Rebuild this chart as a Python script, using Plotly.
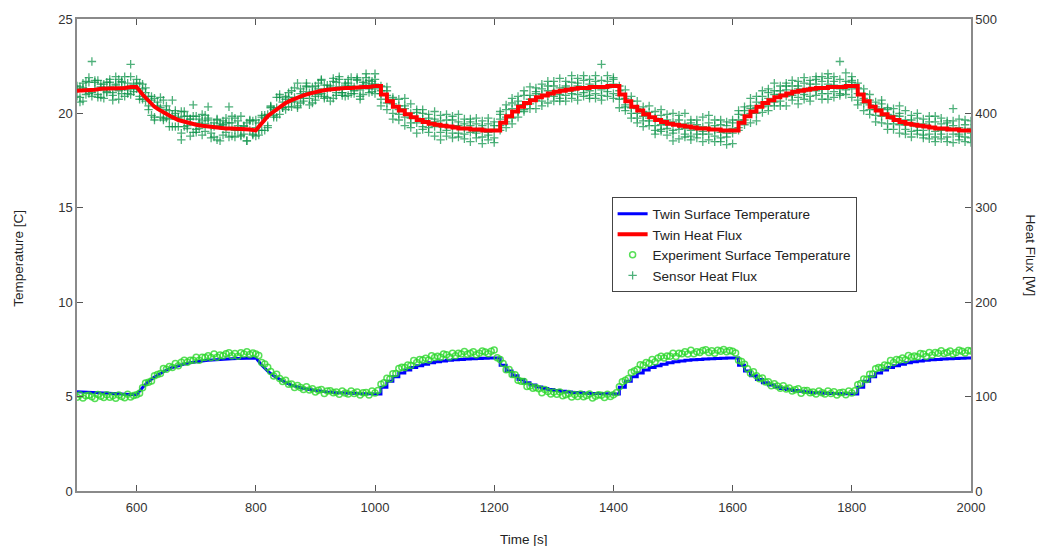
import numpy as np
import plotly.graph_objects as go

# ---------------- data ----------------
# twin model outputs every 10 s, 500..2000 s
twin_time = list(range(500, 2001, 10))
twin_temp = [
    5.26, 5.25, 5.24, 5.22, 5.21, 5.19, 5.17, 5.15, 5.13, 5.11,
    5.10, 5.48, 5.80, 6.04, 6.24, 6.41, 6.54, 6.64, 6.72, 6.79, 6.85, 6.89, 6.92, 6.95, 6.97, 6.99, 7.01, 7.02, 7.03, 7.04,
    7.05, 6.66, 6.35, 6.10, 5.90, 5.74, 5.61, 5.51, 5.43, 5.37, 5.32, 5.28, 5.25, 5.22, 5.20, 5.18, 5.17, 5.16, 5.15, 5.15,
    5.14, 5.50, 5.81, 6.05, 6.25, 6.41, 6.54, 6.64, 6.72, 6.79, 6.85, 6.89, 6.92, 6.95, 6.97, 6.99, 7.01, 7.02, 7.03, 7.04,
    7.05, 6.66, 6.35, 6.10, 5.90, 5.74, 5.61, 5.51, 5.43, 5.37, 5.32, 5.28, 5.25, 5.22, 5.20, 5.18, 5.17, 5.16, 5.15, 5.15,
    5.14, 5.50, 5.81, 6.05, 6.25, 6.41, 6.54, 6.64, 6.72, 6.79, 6.85, 6.89, 6.92, 6.95, 6.97, 6.99, 7.01, 7.02, 7.03, 7.04,
    7.05, 6.66, 6.35, 6.10, 5.90, 5.74, 5.61, 5.51, 5.43, 5.37, 5.32, 5.28, 5.25, 5.22, 5.20, 5.18, 5.17, 5.16, 5.15, 5.15,
    5.14, 5.50, 5.81, 6.05, 6.25, 6.41, 6.54, 6.64, 6.72, 6.79, 6.85, 6.89, 6.92, 6.95, 6.97, 6.99, 7.01, 7.02, 7.03, 7.04,
    7.05,
]
twin_flux = [
    424, 424, 425, 425, 426, 426, 427, 427, 427, 428,
    428, 420, 413, 407, 403, 399, 396, 393, 391, 390, 388, 387, 386, 385, 385, 384, 384, 384, 383, 383,
    382, 390, 397, 402, 407, 411, 414, 417, 419, 421, 423, 424, 425, 426, 426, 427, 427, 428, 428, 428,
    429, 420, 413, 407, 403, 399, 396, 393, 391, 389, 388, 387, 386, 385, 384, 384, 383, 383, 382, 382,
    382, 390, 397, 402, 407, 411, 414, 417, 419, 421, 423, 424, 425, 426, 427, 427, 428, 428, 428, 429,
    429, 420, 413, 407, 403, 399, 396, 393, 391, 389, 388, 387, 386, 385, 384, 384, 383, 383, 382, 382,
    382, 390, 397, 402, 407, 411, 414, 417, 419, 421, 423, 424, 425, 426, 427, 427, 428, 428, 428, 429,
    429, 420, 413, 407, 403, 399, 396, 393, 391, 389, 388, 387, 386, 385, 384, 384, 383, 383, 382, 382,
    382,
]

# experiment surface temperature every 5 s, 500..2000 s
exp_time = list(range(500, 2001, 5))
exp_temp = [
    4.97, 5.09, 4.92, 5.04, 5.07, 4.99, 4.90, 5.11, 5.02, 4.95, 5.10, 4.96, 5.05, 4.91, 5.08, 5.01, 4.94, 5.12, 4.98, 5.06,
    5.10, 5.18, 5.47, 5.72, 5.76, 5.83, 6.11, 6.17, 6.23, 6.49, 6.45, 6.59, 6.54, 6.75, 6.63, 6.82, 6.92, 6.82, 6.93, 6.93,
    7.09, 6.93, 7.09, 7.07, 7.17, 7.07, 7.26, 7.08, 7.20, 7.16, 7.27, 7.32, 7.17, 7.28, 7.14, 7.32, 7.26, 7.37, 7.23, 7.31,
    7.26, 7.18, 6.81, 6.73, 6.56, 6.33, 6.09, 6.18, 5.96, 5.80, 5.86, 5.65, 5.67, 5.48, 5.59, 5.48, 5.37, 5.52, 5.35, 5.41,
    5.25, 5.33, 5.38, 5.16, 5.30, 5.31, 5.20, 5.24, 5.13, 5.29, 5.19, 5.14, 5.29, 5.16, 5.25, 5.08, 5.20, 5.22, 5.09, 5.29,
    5.19, 5.32, 5.66, 5.73, 5.97, 5.93, 6.21, 6.22, 6.49, 6.55, 6.54, 6.68, 6.65, 6.91, 6.80, 6.97, 6.94, 7.03, 6.94, 7.17,
    7.07, 7.14, 7.09, 7.25, 7.22, 7.10, 7.29, 7.16, 7.29, 7.25, 7.39, 7.24, 7.30, 7.37, 7.22, 7.29, 7.42, 7.36, 7.27, 7.40,
    7.47, 7.06, 6.97, 6.75, 6.42, 6.43, 6.17, 6.16, 5.87, 5.81, 5.80, 5.54, 5.56, 5.44, 5.48, 5.41, 5.21, 5.38, 5.27, 5.14,
    5.24, 5.13, 5.25, 5.05, 5.10, 5.16, 4.98, 5.11, 5.01, 5.14, 4.99, 5.06, 5.14, 4.93, 5.02, 5.10, 5.07, 4.95, 5.13, 5.01,
    5.10, 5.21, 5.52, 5.79, 5.86, 5.96, 6.28, 6.35, 6.43, 6.69, 6.66, 6.80, 6.76, 6.97, 6.85, 7.04, 7.14, 7.04, 7.15, 7.14,
    7.30, 7.13, 7.29, 7.27, 7.37, 7.26, 7.45, 7.27, 7.38, 7.33, 7.44, 7.48, 7.33, 7.43, 7.29, 7.46, 7.40, 7.50, 7.37, 7.44,
    7.40, 7.31, 6.93, 6.86, 6.71, 6.48, 6.24, 6.32, 6.11, 5.94, 5.99, 5.77, 5.78, 5.57, 5.68, 5.56, 5.44, 5.58, 5.40, 5.45,
    5.29, 5.36, 5.41, 5.18, 5.32, 5.32, 5.21, 5.25, 5.14, 5.30, 5.20, 5.14, 5.30, 5.16, 5.26, 5.08, 5.21, 5.23, 5.10, 5.30,
    5.19, 5.31, 5.63, 5.70, 5.93, 5.90, 6.18, 6.20, 6.47, 6.54, 6.53, 6.67, 6.64, 6.91, 6.80, 6.97, 6.94, 7.04, 6.95, 7.18,
    7.08, 7.15, 7.11, 7.28, 7.25, 7.13, 7.33, 7.20, 7.33, 7.29, 7.43, 7.28, 7.34, 7.41, 7.26, 7.33, 7.46, 7.40, 7.31, 7.44,
    7.41,
]

# sensor heat flux, dense part: three readings every 5 s, 500..995 s
sensor_dense_time = list(range(500, 1000, 5))
sensor_dense_1 = [
    429, 417, 427, 434, 421, 455, 433, 420, 428, 416, 433, 428, 422, 439, 424, 433, 418, 432, 452, 426,
    436, 418, 431, 413, 418, 398, 416, 407, 396, 414, 395, 403, 414, 386, 396, 402, 386, 397, 376, 409,
    397, 384, 392, 398, 407, 387, 375, 393, 389, 377, 395, 407, 390, 375, 387, 397, 378, 390, 382, 392,
    376, 390, 398, 382, 399, 406, 398, 417, 399, 412, 418, 407, 424, 413, 432, 411, 423, 429, 409, 423,
    429, 420, 435, 416, 430, 427, 416, 433, 439, 422, 430, 436, 421, 428, 436, 415, 433, 438, 426, 434,
]
sensor_dense_2 = [
    418, 428, 413, 426, 433, 422, 435, 417, 431, 425, 422, 436, 419, 430, 415, 434, 428, 421, 439, 423,
    426, 432, 415, 422, 404, 414, 393, 412, 406, 393, 404, 386, 398, 403, 386, 372, 397, 387, 394, 380,
    383, 394, 377, 389, 395, 379, 390, 372, 387, 392, 380, 390, 376, 395, 382, 376, 387, 371, 392, 377,
    385, 377, 396, 395, 387, 408, 396, 406, 417, 406, 404, 417, 412, 427, 408, 421, 413, 428, 422, 411,
    418, 432, 421, 430, 417, 429, 437, 419, 428, 422, 418, 432, 429, 421, 438, 425, 420, 432, 435, 423,
]
sensor_dense_3 = [
    426, 412, 432, 420, 438, 418, 426, 435, 417, 431, 423, 433, 414, 431, 436, 421, 439, 425, 420, 431,
    432, 415, 426, 427, 408, 418, 396, 408, 417, 395, 408, 394, 386, 400, 395, 379, 402, 384, 394, 397,
    380, 390, 399, 381, 393, 374, 386, 394, 371, 388, 390, 375, 397, 382, 392, 377, 386, 371, 393, 378,
    393, 382, 382, 398, 385, 407, 404, 396, 420, 406, 415, 422, 407, 417, 406, 426, 416, 432, 416, 428,
    414, 426, 436, 418, 426, 413, 434, 422, 436, 419, 432, 419, 438, 424, 435, 418, 430, 442, 422, 431,
]

# sensor heat flux, column part: five readings every 10 s, 1000..2000 s
sensor_col_time = list(range(1000, 2001, 10))
sensor_cols = [
    [436, 421, 431, 442, 426], [415, 429, 408, 424, 421], [424, 411, 404, 419, 428], [400, 410, 415, 394, 417],
    [404, 393, 415, 408, 399], [387, 405, 396, 408, 416], [400, 410, 390, 395, 385], [390, 401, 379, 404, 395],
    [400, 386, 394, 383, 404], [380, 390, 399, 385, 395], [394, 376, 386, 402, 391], [386, 398, 380, 392, 372],
    [399, 382, 393, 376, 386], [379, 387, 374, 393, 397], [387, 375, 399, 379, 391], [373, 389, 385, 394, 378],
    [391, 380, 370, 387, 394], [379, 395, 389, 374, 381], [392, 375, 384, 368, 387], [380, 389, 372, 395, 377],
    [387, 369, 391, 383, 374], [382, 394, 402, 387, 399], [409, 396, 391, 404, 385], [389, 411, 405, 395, 416],
    [409, 402, 418, 396, 413], [404, 424, 409, 419, 402], [428, 405, 419, 410, 415], [414, 423, 405, 427, 421],
    [426, 408, 420, 431, 413], [411, 424, 429, 419, 434], [434, 418, 422, 413, 429], [416, 427, 437, 420, 413],
    [429, 413, 419, 434, 427], [416, 433, 424, 440, 421], [429, 420, 437, 414, 432], [422, 440, 418, 426, 435],
    [436, 424, 416, 431, 419], [416, 429, 434, 421, 440], [452, 419, 425, 435, 414], [427, 434, 418, 440, 423],
    [436, 416, 431, 421, 438], [406, 429, 415, 424, 419], [416, 407, 425, 403, 409], [400, 418, 406, 395, 413],
    [413, 400, 395, 405, 390], [392, 407, 397, 386, 402], [401, 387, 408, 392, 395], [382, 395, 402, 387, 378],
    [398, 388, 383, 404, 381], [388, 399, 377, 384, 393], [400, 382, 391, 379, 371], [383, 373, 393, 388, 398],
    [389, 378, 400, 375, 384], [376, 390, 382, 393, 372], [393, 383, 374, 388, 378], [378, 396, 386, 370, 381],
    [384, 372, 390, 378, 398], [370, 387, 376, 393, 383], [388, 380, 393, 374, 370], [379, 391, 367, 387, 375],
    [379, 390, 368, 393, 384], [399, 385, 393, 382, 403], [388, 398, 407, 393, 403], [408, 390, 400, 416, 405],
    [406, 418, 400, 412, 392], [424, 407, 418, 401, 411], [408, 416, 403, 422, 426], [420, 408, 432, 412, 424],
    [408, 424, 420, 429, 413], [429, 418, 408, 425, 432], [419, 435, 429, 414, 421], [434, 417, 426, 410, 429],
    [423, 432, 415, 438, 420], [431, 413, 435, 427, 418], [419, 431, 439, 424, 436], [439, 426, 421, 434, 415],
    [415, 437, 431, 421, 442], [430, 423, 439, 417, 434], [421, 455, 426, 436, 419], [443, 420, 434, 425, 430],
    [426, 435, 417, 439, 433], [427, 409, 421, 432, 414], [403, 416, 421, 411, 426], [414, 399, 409, 420, 404],
    [398, 412, 391, 407, 404], [410, 397, 390, 405, 414], [389, 399, 404, 383, 406], [394, 383, 405, 398, 389],
    [379, 397, 388, 400, 408], [393, 403, 383, 388, 378], [390, 381, 398, 375, 393], [382, 400, 378, 386, 395],
    [394, 382, 374, 389, 377], [373, 386, 391, 378, 397], [397, 375, 381, 391, 370], [382, 389, 373, 395, 378],
    [390, 370, 385, 375, 392], [369, 392, 378, 387, 405], [385, 376, 394, 372, 378], [375, 393, 381, 370, 388],
    [392, 379, 374, 384, 369],
]

x_ticks = [600, 800, 1000, 1200, 1400, 1600, 1800, 2000]

# ---------------- figure ----------------
BLUE = "rgb(0,0,255)"
RED = "rgb(255,0,0)"
EXP_GREEN = "rgba(45,215,45,0.8)"
SEN_GREEN = "rgba(10,145,70,0.72)"
FONT = "Liberation Sans, Arial, sans-serif"

split = twin_time.index(1000)

sx, sy = [], []
for t, a, b, c in zip(sensor_dense_time, sensor_dense_1, sensor_dense_2, sensor_dense_3):
    sx += [t, t, t]
    sy += [a, b, c]
for t, col in zip(sensor_col_time, sensor_cols):
    sx += [t] * len(col)
    sy += col

fig = go.Figure()

# temperature (left axis)
fig.add_trace(go.Scatter(x=twin_time[:split + 1], y=twin_temp[:split + 1], mode="lines",
                         line=dict(color=BLUE, width=3), name="Twin Surface Temperature",
                         legendrank=1, yaxis="y"))
fig.add_trace(go.Scatter(x=twin_time[split:], y=twin_temp[split:], mode="lines",
                         line=dict(color=BLUE, width=3, shape="hv"), showlegend=False, yaxis="y"))
fig.add_trace(go.Scatter(x=exp_time, y=exp_temp, mode="markers",
                         marker=dict(symbol="circle-open", size=6, color=EXP_GREEN,
                                     line=dict(width=1.5, color=EXP_GREEN)),
                         name="Experiment Surface Temperature", legendrank=3, yaxis="y"))

# heat flux (right axis)
fig.add_trace(go.Scatter(x=sx, y=sy, mode="markers",
                         marker=dict(symbol="cross-thin", size=6, color=SEN_GREEN,
                                     line=dict(width=1.3, color=SEN_GREEN)),
                         name="Sensor Heat Flux", legendrank=4, yaxis="y2"))
fig.add_trace(go.Scatter(x=twin_time[:split + 1], y=twin_flux[:split + 1], mode="lines",
                         line=dict(color=RED, width=4), name="Twin Heat Flux", legendrank=2, yaxis="y2"))
fig.add_trace(go.Scatter(x=twin_time[split:], y=twin_flux[split:], mode="lines",
                         line=dict(color=RED, width=4, shape="hv"), showlegend=False, yaxis="y2"))

axis_common = dict(showgrid=False, zeroline=False, showline=True, linecolor="#8a8a8a", linewidth=1.5,
                   ticks="inside", ticklen=6, tickcolor="#555", tickwidth=1,
                   tickfont=dict(family=FONT, size=13, color="#333"))

fig.update_layout(
    width=1048, height=546,
    margin=dict(l=77, r=77, t=15, b=55),
    paper_bgcolor="white", plot_bgcolor="white",
    font=dict(family=FONT, color="#222"),
    xaxis=dict(range=[500, 2000], tickvals=x_ticks, mirror="ticks", ticklabelstandoff=4, **axis_common),
    yaxis=dict(range=[0, 25], dtick=5, **axis_common),
    yaxis2=dict(range=[0, 500], dtick=100, overlaying="y", side="right", **axis_common),
    showlegend=True,
    legend=dict(x=0.598, y=0.622, xanchor="left", yanchor="top",
                bgcolor="white", bordercolor="#444", borderwidth=1,
                font=dict(size=13.5, color="#222"), tracegroupgap=0, itemwidth=30),
    annotations=[
        dict(text="Time [s]", xref="paper", yref="paper", x=0.5, y=-0.103, showarrow=False,
             xanchor="center", yanchor="middle", font=dict(size=13.5, color="#222")),
        dict(text="Temperature [C]", xref="paper", yref="paper", x=-0.065, y=0.494, showarrow=False,
             textangle=-90, xanchor="center", yanchor="middle", font=dict(size=13.5, color="#222")),
        dict(text="Heat Flux [W]", xref="paper", yref="paper", x=1.067, y=0.499, showarrow=False,
             textangle=90, xanchor="center", yanchor="middle", font=dict(size=13.5, color="#222")),
    ],
)

fig.write_html("out.html")
